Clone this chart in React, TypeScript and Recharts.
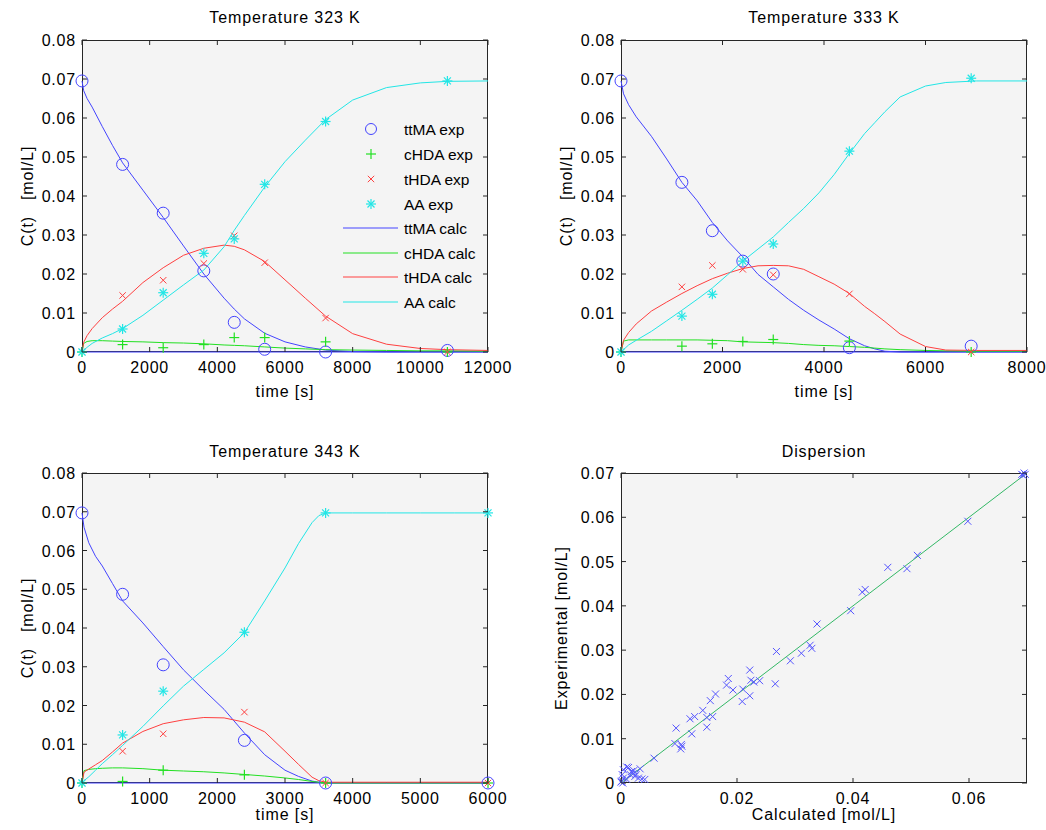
import React from 'react';
import { ComposedChart, Line, Scatter, XAxis, YAxis, ReferenceLine } from 'recharts';

const FONT = '"Liberation Sans", Arial, sans-serif';
const BLUE = '#4444ff';
const GREEN = '#22e022';
const RED = '#ff4040';
const CYAN = '#22e6e6';
const AXIS = '#262626';
const BG = '#f4f4f4';

// ---- 323 K ----
const t323 = [0, 50, 150, 300, 600, 900, 1200, 1800, 2400, 3000, 3600, 4200, 4500, 4800, 5400, 6000, 6600, 7200, 8000, 9000, 10000, 10800, 12000];
const ttma323 = [0.0695, 0.067, 0.065, 0.0628, 0.0578, 0.053, 0.0485, 0.0415, 0.0345, 0.0272, 0.02, 0.0138, 0.011, 0.0085, 0.0048, 0.0026, 0.0013, 0.0005, 0.0001, 0, 0, 0, 0];
const chda323 = [0, 0.0022, 0.0027, 0.0029, 0.0029, 0.0028, 0.0027, 0.0026, 0.0024, 0.0023, 0.0021, 0.0018, 0.0017, 0.0016, 0.0013, 0.001, 0.0008, 0.0006, 0.0005, 0.0004, 0.0003, 0.0003, 0.0002];
const thda323 = [0, 0.0025, 0.0042, 0.006, 0.0088, 0.011, 0.013, 0.0178, 0.0216, 0.0248, 0.0266, 0.0274, 0.0271, 0.0262, 0.0232, 0.0185, 0.0138, 0.0092, 0.0047, 0.002, 0.0009, 0.0006, 0.0004];
const aa323 = [0, 0.0004, 0.0012, 0.0022, 0.0036, 0.0047, 0.006, 0.0094, 0.0133, 0.0172, 0.021, 0.027, 0.0312, 0.035, 0.0423, 0.0488, 0.0543, 0.0596, 0.0646, 0.0678, 0.069, 0.0694, 0.0695];
const t323Exp = [0, 1200, 2400, 3600, 4500, 5400, 7200, 10800];
const ttma323Exp = [0.0695, 0.0481, 0.0356, 0.0208, 0.0076, 0.0007, 0, 0.0004];
const chda323Exp = [0, 0.0019, 0.0011, 0.0019, 0.0037, 0.0037, 0.0026, 0];
const thda323Exp = [0, 0.0145, 0.0184, 0.0227, 0.0298, 0.0229, 0.0087, 0];
const aa323Exp = [0, 0.0059, 0.0152, 0.0253, 0.029, 0.043, 0.0591, 0.0695];

// ---- 333 K ----
const t333 = [0, 50, 150, 300, 600, 900, 1200, 1500, 1800, 2100, 2400, 2700, 3000, 3300, 3600, 3900, 4200, 4500, 4800, 5000, 5200, 5500, 6000, 6400, 7000, 8000];
const ttma333 = [0.0695, 0.0662, 0.0634, 0.0603, 0.0553, 0.0495, 0.0435, 0.0388, 0.0332, 0.0285, 0.0244, 0.0199, 0.0167, 0.0135, 0.0107, 0.0082, 0.0059, 0.0034, 0.0016, 0.0008, 0.0002, 0, 0, 0, 0, 0];
const chda333 = [0, 0.0028, 0.0031, 0.0031, 0.0031, 0.0031, 0.0031, 0.0031, 0.003, 0.0029, 0.0026, 0.0025, 0.0024, 0.0022, 0.0019, 0.0017, 0.0016, 0.0014, 0.0012, 0.001, 0.0008, 0.0006, 0.0004, 0.0003, 0.0002, 0.0002];
const thda333 = [0, 0.003, 0.005, 0.0072, 0.0105, 0.0128, 0.015, 0.017, 0.0188, 0.0202, 0.0214, 0.0221, 0.0222, 0.0221, 0.0212, 0.0193, 0.0174, 0.015, 0.0117, 0.0098, 0.0078, 0.0046, 0.0014, 0.0005, 0.0004, 0.0004];
const aa333 = [0, 0.0006, 0.0018, 0.003, 0.0053, 0.008, 0.0107, 0.0135, 0.0164, 0.0198, 0.0233, 0.0264, 0.0295, 0.0332, 0.0368, 0.0408, 0.0455, 0.0509, 0.056, 0.0588, 0.0616, 0.0654, 0.0682, 0.0691, 0.0695, 0.0695];
const t333Exp = [0, 1200, 1800, 2400, 3000, 4500, 6900];
const ttma333Exp = [0.0695, 0.0435, 0.0311, 0.0233, 0.02, 0.0011, 0.0015];
const chda333Exp = [0, 0.0015, 0.0021, 0.0027, 0.0032, 0.0028, 0];
const thda333Exp = [0, 0.0167, 0.0222, 0.0212, 0.0198, 0.0149, 0];
const aa333Exp = [0, 0.0092, 0.0148, 0.0233, 0.0277, 0.0515, 0.0702];

// ---- 343 K ----
const t343 = [0, 30, 100, 200, 300, 450, 600, 900, 1200, 1500, 1800, 2100, 2400, 2700, 3000, 3200, 3400, 3500, 3600, 4000, 4500, 5000, 5500, 6000];
const ttma343 = [0.0697, 0.066, 0.062, 0.0585, 0.056, 0.0515, 0.047, 0.0413, 0.0352, 0.0292, 0.024, 0.019, 0.0129, 0.0073, 0.0033, 0.0017, 0.0005, 0.0002, 0, 0, 0, 0, 0, 0];
const chda343 = [0, 0.0032, 0.0035, 0.0037, 0.0038, 0.0039, 0.0039, 0.0037, 0.0033, 0.0031, 0.0029, 0.0026, 0.0022, 0.0018, 0.0013, 0.0009, 0.0004, 0.0002, 0, 0, 0, 0, 0, 0];
const thda343 = [0, 0.0028, 0.0036, 0.0047, 0.0058, 0.008, 0.0103, 0.0133, 0.0153, 0.0163, 0.0169, 0.0168, 0.0157, 0.0132, 0.0082, 0.0048, 0.0015, 0.0006, 0.0002, 0.0002, 0.0002, 0.0002, 0.0002, 0.0002];
const aa343 = [0, 0.0006, 0.0016, 0.0033, 0.005, 0.0073, 0.0097, 0.0146, 0.0199, 0.025, 0.0293, 0.0336, 0.0388, 0.047, 0.0555, 0.0618, 0.0672, 0.069, 0.0697, 0.0697, 0.0697, 0.0697, 0.0697, 0.0697];
const t343Exp = [0, 600, 1200, 2400, 3600, 6000];
const ttma343Exp = [0.0697, 0.0487, 0.0305, 0.011, 0, 0];
const chda343Exp = [0, 0.0004, 0.0033, 0.0021, 0, 0];
const thda343Exp = [0, 0.0082, 0.0127, 0.0183, 0, 0];
const aa343Exp = [0, 0.0124, 0.0237, 0.0389, 0.0697, 0.0697];

// ---- Dispersion ----
const dispCalc = [0.0598, 0.0511, 0.046, 0.0493, 0.0416, 0.0421, 0.0396, 0.0338, 0.0326, 0.0329, 0.0311, 0.0292, 0.0268, 0.0266, 0.0222, 0.0224, 0.0239, 0.0229, 0.021, 0.0209, 0.0222, 0.0193, 0.0185, 0.0182, 0.0163, 0.0154, 0.0158, 0.0148, 0.0148, 0.0141, 0.0127, 0.0119, 0.0122, 0.0095, 0.0093, 0.0104, 0.0103, 0.0105, 0.0057, 0.0691, 0.0695, 0.0697, 0.0693, 0.001, 0.0004, 0.0018, 0.0021, 0.0024, 0.0033, 0.003, 0.0041, 0.0001, 0.0004, 0.0016, 0.0003, 0, 0.0036, 0.001, 0.0026, 0.0002, 0.0013, 0.0022];
const dispExp = [0.0591, 0.0514, 0.0487, 0.0484, 0.0431, 0.0437, 0.0389, 0.0359, 0.0311, 0.0304, 0.0293, 0.0276, 0.0297, 0.0224, 0.0255, 0.0232, 0.0231, 0.0228, 0.0212, 0.0184, 0.0197, 0.021, 0.0236, 0.0221, 0.0201, 0.0186, 0.015, 0.0148, 0.0126, 0.0164, 0.015, 0.0145, 0.0111, 0.0124, 0.0089, 0.0087, 0.0077, 0.0083, 0.0056, 0.0697, 0.07, 0.0697, 0.0695, 0.0036, 0.003, 0.0026, 0.0021, 0.0015, 0.0032, 0.0011, 0.0008, 0.0004, 0.0011, 0.0019, 0, 0.0002, 0.0009, 0.0008, 0.0019, 0.0019, 0.0035, 0.0028];
const fitX = [0, 0.07];
const fitY = [0, 0.07];

const cTicks = [0, 0.01, 0.02, 0.03, 0.04, 0.05, 0.06, 0.07, 0.08];
const xTicks323 = [0, 2000, 4000, 6000, 8000, 10000, 12000];
const xTicks333 = [0, 2000, 4000, 6000, 8000];
const xTicks343 = [0, 1000, 2000, 3000, 4000, 5000, 6000];
const dispXTicks = [0, 0.02, 0.04, 0.06];
const dispYTicks = [0, 0.01, 0.02, 0.03, 0.04, 0.05, 0.06, 0.07];

const legendItems = ['ttMA exp', 'cHDA exp', 'tHDA exp', 'AA exp', 'ttMA calc', 'cHDA calc', 'tHDA calc', 'AA calc'];

const rows = (t: number[], v: number[]) => t.map((x, i) => ({ x, y: v[i] }));

const tickStyle: React.CSSProperties = { fontFamily: FONT, fontSize: 16, letterSpacing: 0.8, fill: '#000' };

// marker shapes
const Circle = ({ cx, cy }: any) => <circle cx={cx} cy={cy} r={6} fill="none" stroke={BLUE} strokeWidth={1} />;
const Plus = ({ cx, cy, color = GREEN }: any) => (
  <g stroke={color} strokeWidth={1.2}>
    <line x1={cx - 5} x2={cx + 5} y1={cy} y2={cy} />
    <line x1={cx} x2={cx} y1={cy - 5} y2={cy + 5} />
  </g>
);
const Cross = ({ cx, cy, color = RED, s = 3.2 }: any) => (
  <g stroke={color} strokeWidth={1}>
    <line x1={cx - s} x2={cx + s} y1={cy - s} y2={cy + s} />
    <line x1={cx - s} x2={cx + s} y1={cy + s} y2={cy - s} />
  </g>
);
const Star = ({ cx, cy }: any) => (
  <g stroke={CYAN} strokeWidth={1.2}>
    <line x1={cx - 5} x2={cx + 5} y1={cy} y2={cy} />
    <line x1={cx} x2={cx} y1={cy - 5} y2={cy + 5} />
    <line x1={cx - 3.5} x2={cx + 3.5} y1={cy - 3.5} y2={cy + 3.5} />
    <line x1={cx - 3.5} x2={cx + 3.5} y1={cy + 3.5} y2={cy - 3.5} />
  </g>
);
const DispCross = (p: any) => <Cross {...p} color="#5555ff" s={3.5} />;

const YW = 80;
const TOPM = 30;
const RIGHTM = 36;

function makeXTick(top: number, bottom: number) {
  return (props: any) => {
    const { x, payload } = props;
    return (
      <g>
        <line x1={x} x2={x} y1={bottom} y2={bottom - 5} stroke={AXIS} />
        <line x1={x} x2={x} y1={top} y2={top + 5} stroke={AXIS} />
        <text x={x} y={bottom + 21} textAnchor="middle" style={tickStyle}>{payload.value}</text>
      </g>
    );
  };
}

function makeYTick(left: number, right: number) {
  return (props: any) => {
    const { y, payload } = props;
    return (
      <g>
        <line x1={left} x2={left + 5} y1={y} y2={y} stroke={AXIS} />
        <line x1={right} x2={right - 5} y1={y} y2={y} stroke={AXIS} />
        <text x={left - 6} y={y + 6} textAnchor="end" style={tickStyle}>{payload.value}</text>
      </g>
    );
  };
}

interface PanelProps {
  px: number; py: number; pw: number; ph: number;
  xDomain: [number, number]; xTicks: number[];
  yDomain: [number, number]; yTicks: number[];
  children: React.ReactNode;
}

function Panel({ px, py, pw, ph, xDomain, xTicks, yDomain, yTicks, children }: PanelProps) {
  const width = YW + pw + RIGHTM;
  const height = TOPM + ph + 40;
  return (
    <>
      <div style={{ position: 'absolute', left: px, top: py, width: pw, height: ph, background: BG, boxSizing: 'border-box', border: `1px solid ${AXIS}` }} />
      <div style={{ position: 'absolute', left: px - YW, top: py - TOPM, width, height }}>
        <ComposedChart width={width} height={height} margin={{ top: TOPM, right: RIGHTM, bottom: 10, left: 0 }}>
          <XAxis type="number" dataKey="x" domain={xDomain} ticks={xTicks} interval={0} height={30}
            axisLine={false} tickLine={false} tick={makeXTick(TOPM, TOPM + ph)} />
          <YAxis type="number" domain={yDomain} ticks={yTicks} interval={0} width={YW}
            axisLine={false} tickLine={false} tick={makeYTick(YW, YW + pw)} />
          {children}
        </ComposedChart>
      </div>
    </>
  );
}

function kineticSeries(t: number[], ttma: number[], chda: number[], thda: number[], aa: number[],
  te: number[], ttmaE: number[], chdaE: number[], thdaE: number[], aaE: number[]) {
  return [
    <ReferenceLine key="zero" y={0} stroke={BLUE} strokeWidth={1.2} />,
    <Line key="l1" data={rows(t, ttma)} dataKey="y" stroke={BLUE} strokeWidth={1} dot={false} isAnimationActive={false} type="linear" />,
    <Line key="l2" data={rows(t, chda)} dataKey="y" stroke={GREEN} strokeWidth={1} dot={false} isAnimationActive={false} type="linear" />,
    <Line key="l3" data={rows(t, thda)} dataKey="y" stroke={RED} strokeWidth={1} dot={false} isAnimationActive={false} type="linear" />,
    <Line key="l4" data={rows(t, aa)} dataKey="y" stroke={CYAN} strokeWidth={1} dot={false} isAnimationActive={false} type="linear" />,
    <Scatter key="s1" data={rows(te, ttmaE)} dataKey="y" shape={Circle} isAnimationActive={false} />,
    <Scatter key="s2" data={rows(te, chdaE)} dataKey="y" shape={Plus} isAnimationActive={false} />,
    <Scatter key="s3" data={rows(te, thdaE)} dataKey="y" shape={Cross} isAnimationActive={false} />,
    <Scatter key="s4" data={rows(te, aaE)} dataKey="y" shape={Star} isAnimationActive={false} />,
  ];
}

const textBase: React.CSSProperties = {
  position: 'absolute', fontFamily: FONT, fontSize: 16, letterSpacing: 0.9, color: '#000', whiteSpace: 'pre', lineHeight: '18px',
};
function Label({ x, y, text, rotate }: { x: number; y: number; text: string; rotate?: boolean }) {
  return (
    <div style={{ ...textBase, left: x, top: y, transform: `translate(-50%, -50%)${rotate ? ' rotate(-90deg)' : ''}` }}>{text}</div>
  );
}

function LegendBox() {
  const ys = [129, 154, 179, 204, 228, 253, 277, 302];
  const colors = [BLUE, GREEN, RED, CYAN, BLUE, GREEN, RED, CYAN];
  return (
    <svg style={{ position: 'absolute', left: 0, top: 0 }} width={1046} height={830} pointerEvents="none">
      {legendItems.map((name, i) => {
        const y = ys[i];
        let sym: React.ReactNode;
        if (i === 0) sym = <circle cx={371} cy={y} r={5.5} fill="none" stroke={BLUE} />;
        else if (i === 1) sym = <Plus cx={371} cy={y} />;
        else if (i === 2) sym = <Cross cx={371} cy={y} />;
        else if (i === 3) sym = <Star cx={371} cy={y} />;
        else sym = <line x1={343} x2={398} y1={y} y2={y} stroke={colors[i]} strokeWidth={1.2} />;
        return (
          <g key={name}>
            {sym}
            <text x={404} y={y + 6} style={{ ...tickStyle, fontSize: 15.5, letterSpacing: 0 }}>{name}</text>
          </g>
        );
      })}
    </svg>
  );
}

export default function App() {
  return (
    <div style={{ position: 'absolute', left: 0, top: 0, width: 1046, height: 830, background: '#fff', overflow: 'hidden' }}>
      <Panel px={82} py={40} pw={406} ph={312} xDomain={[0, 12000]} xTicks={xTicks323} yDomain={[0, 0.08]} yTicks={cTicks}>
        {kineticSeries(t323, ttma323, chda323, thda323, aa323, t323Exp, ttma323Exp, chda323Exp, thda323Exp, aa323Exp)}
      </Panel>
      <Panel px={621} py={40} pw={406} ph={312} xDomain={[0, 8000]} xTicks={xTicks333} yDomain={[0, 0.08]} yTicks={cTicks}>
        {kineticSeries(t333, ttma333, chda333, thda333, aa333, t333Exp, ttma333Exp, chda333Exp, thda333Exp, aa333Exp)}
      </Panel>
      <Panel px={82} py={473} pw={406} ph={310} xDomain={[0, 6000]} xTicks={xTicks343} yDomain={[0, 0.08]} yTicks={cTicks}>
        {kineticSeries(t343, ttma343, chda343, thda343, aa343, t343Exp, ttma343Exp, chda343Exp, thda343Exp, aa343Exp)}
      </Panel>
      <Panel px={621} py={473} pw={406} ph={310} xDomain={[0, 0.07]} xTicks={dispXTicks} yDomain={[0, 0.07]} yTicks={dispYTicks}>
        <Line data={rows(fitX, fitY)} dataKey="y" stroke="#33b866" strokeWidth={1} dot={false} isAnimationActive={false} />
        <Scatter data={rows(dispCalc, dispExp)} dataKey="y" shape={DispCross} isAnimationActive={false} />
      </Panel>

      <LegendBox />

      <Label x={285} y={18} text="Temperature 323 K" />
      <Label x={824} y={18} text="Temperature 333 K" />
      <Label x={285} y={452} text="Temperature 343 K" />
      <Label x={824} y={452} text="Dispersion" />
      <Label x={285} y={392} text="time [s]" />
      <Label x={824} y={392} text="time [s]" />
      <Label x={285} y={815} text="time [s]" />
      <Label x={824} y={815} text="Calculated [mol/L]" />
      <Label x={28} y={196} text="C(t)   [mol/L]" rotate />
      <Label x={567} y={196} text="C(t)   [mol/L]" rotate />
      <Label x={28} y={628} text="C(t)   [mol/L]" rotate />
      <Label x={562} y={628} text="Experimental [mol/L]" rotate />
    </div>
  );
}
